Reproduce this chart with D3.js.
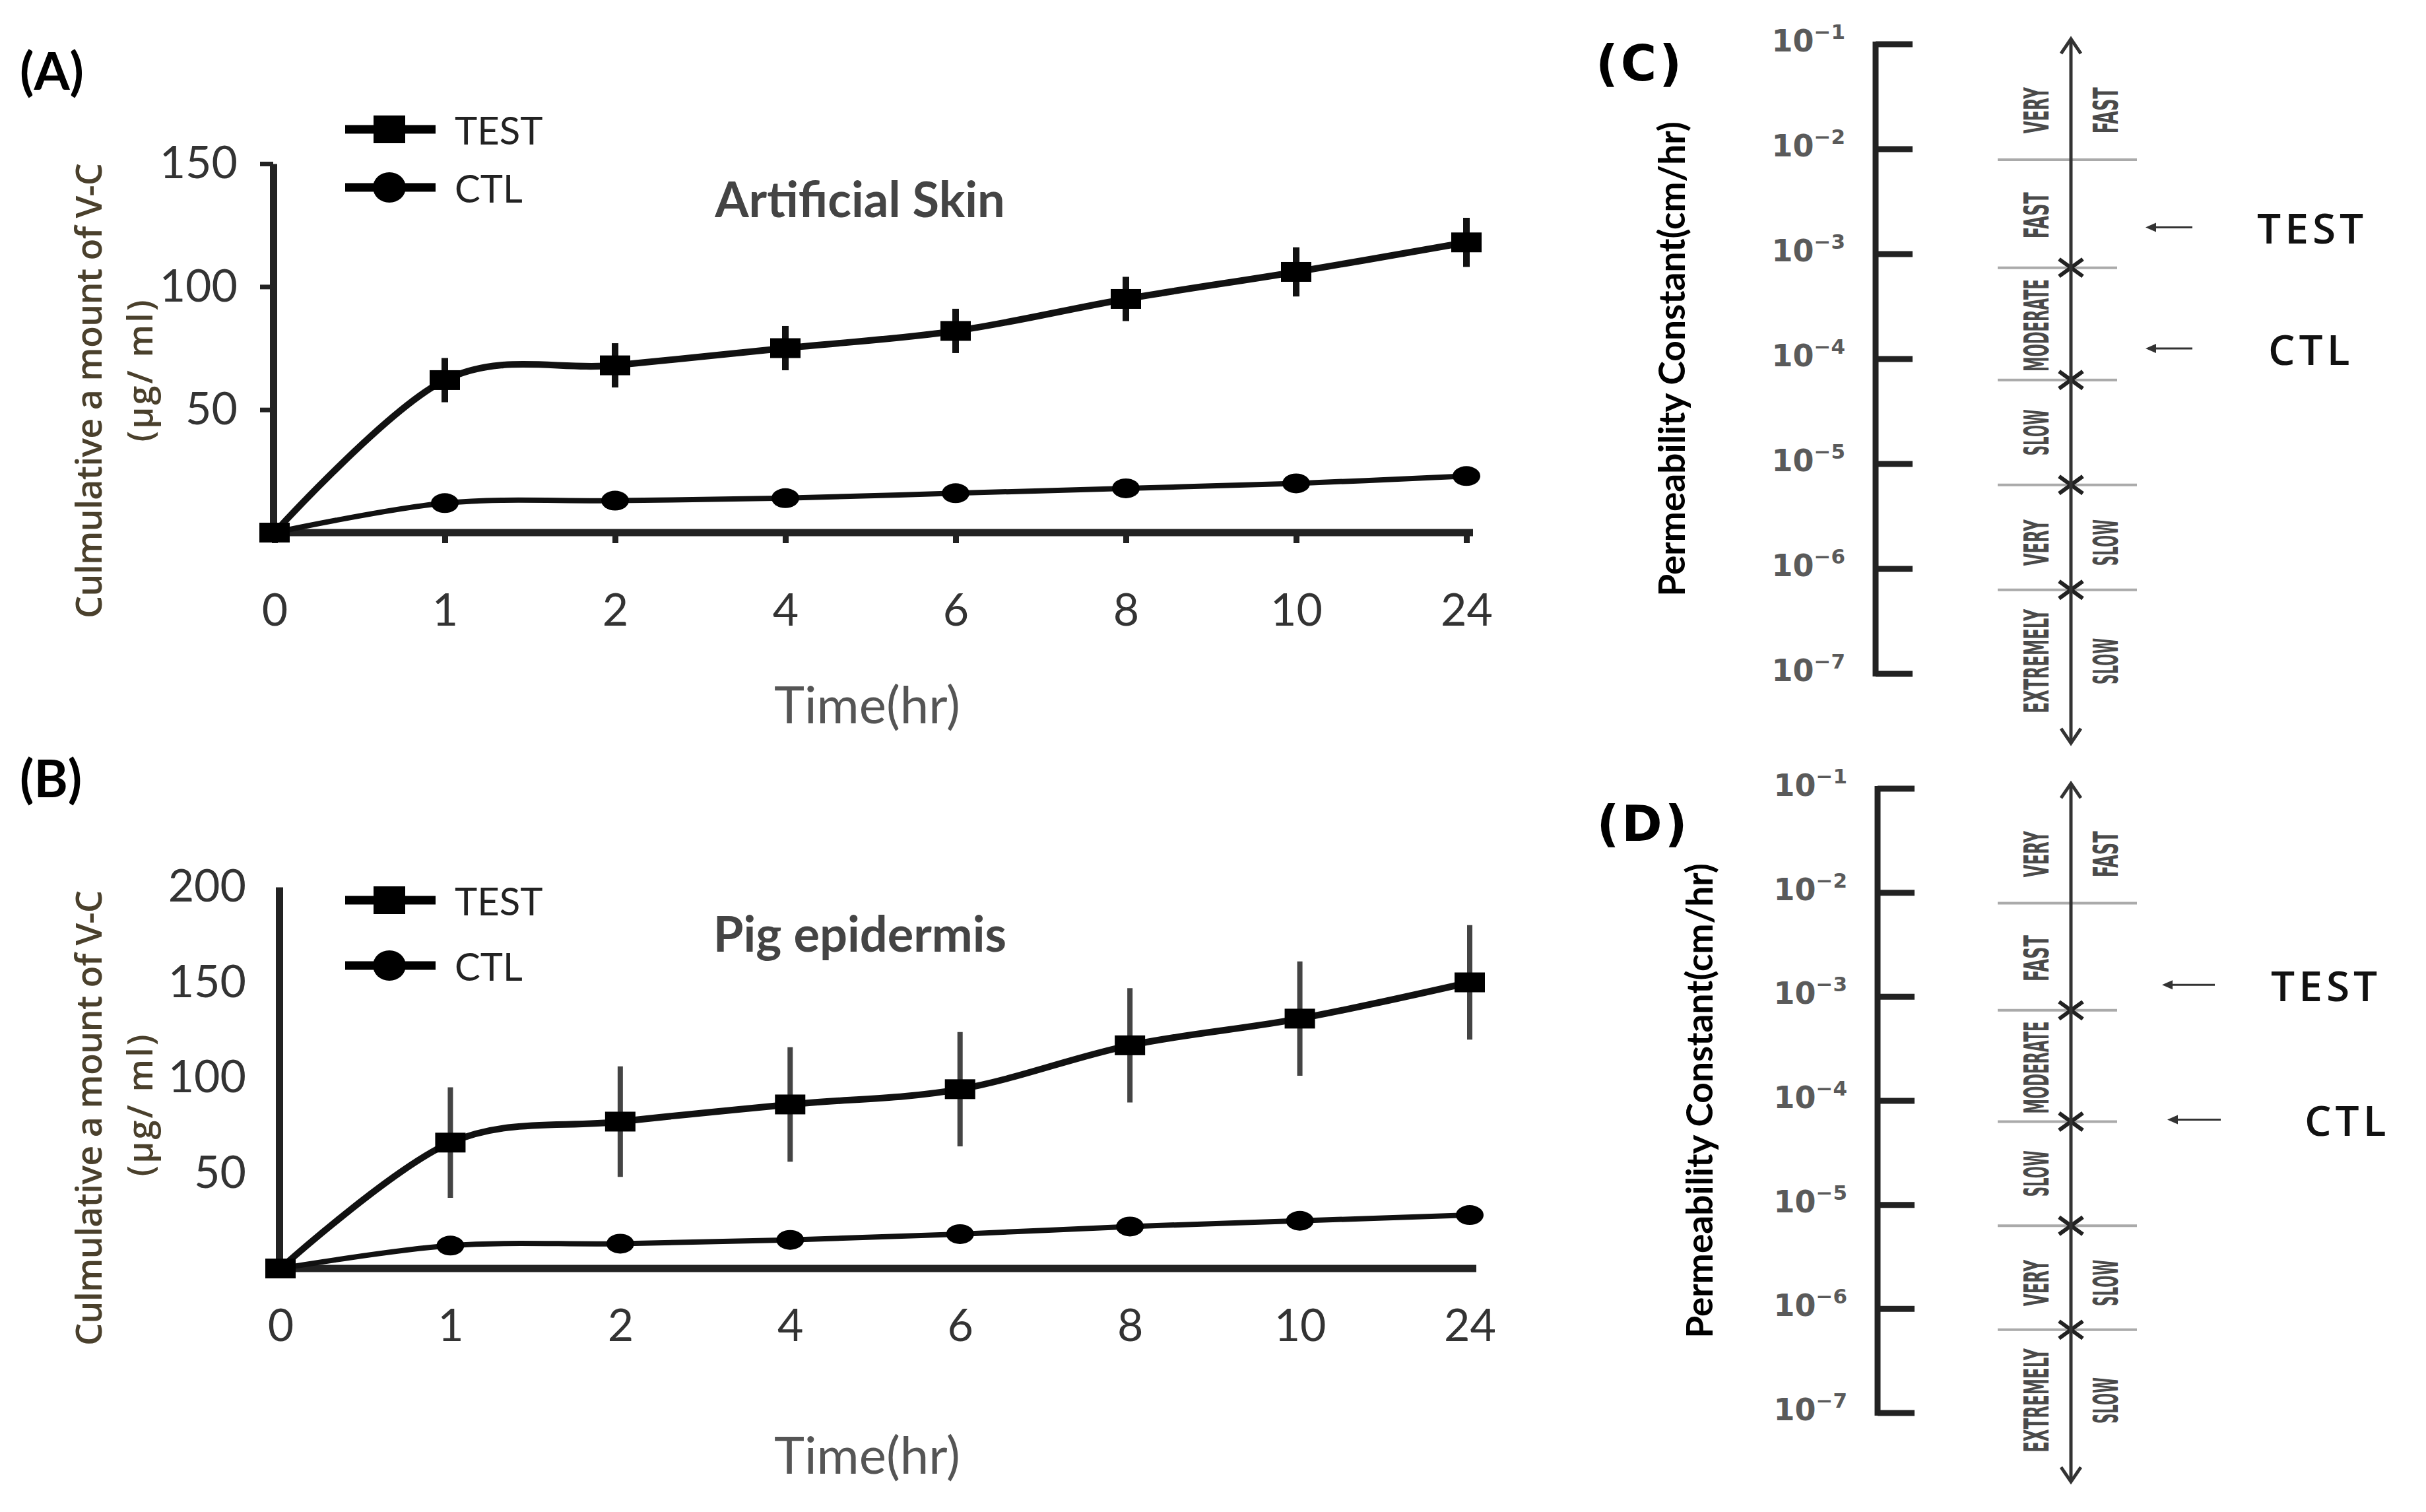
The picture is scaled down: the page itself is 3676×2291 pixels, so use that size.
<!DOCTYPE html>
<html lang="en">
<head>
<meta charset="UTF-8">
<title>V-C permeation</title>
<script src="https://d3js.org/d3.v7.min.js"></script>
<style>
  body { margin: 0; background: #fff; }
</style>
</head>
<body>
<svg id="fig" width="3676" height="2291"></svg>
<script>
// ---- data ----
const timeLabels = ["0", "1", "2", "4", "6", "8", "10", "24"];

const skinTest    = [0, 62, 68, 75, 82, 95, 106, 118];
const skinTestErr = [0, 9, 9, 9, 9, 9, 10, 10];
const skinCtl     = [0, 12, 13, 14, 16, 18, 20, 23];

const pigTest     = [0, 66, 77, 86, 94, 117, 131, 150];
const pigTestErr  = [0, 29, 29, 30, 30, 30, 30, 30];
const pigCtl      = [0, 12, 13, 15, 18, 22, 25, 28];

const skinTicks = [50, 100, 150];
const pigTicks  = [50, 100, 150, 200];

// permeability scale (exponents of 10)
const permExponents = [-1, -2, -3, -4, -5, -6, -7];
const zoneBounds    = [-2.10, -3.13, -4.20, -5.20, -6.20];
const zoneMids      = [-1.63, -2.63, -3.68, -4.70, -5.75, -6.88];
const zoneLeft      = ["VERY", "FAST", "MODERATE", "SLOW", "VERY", "EXTREMELY"];
const zoneRight     = ["FAST", "", "", "", "SLOW", "SLOW"];
const arrowEnds     = [-0.95, -7.66];

const permNames = ["TEST", "CTL"];
const skinPerm  = [1.8e-3, 1.26e-4];
const pigPerm   = [1.3e-3, 6.6e-5];

const svg = d3.select("#fig");
svg.append("rect").attr("width", 3676).attr("height", 2291).attr("fill", "#fff");

const LATO = "Lato, 'Open Sans', sans-serif";

function linePanel(p) {
  const g = svg.append("g");
  const x = d3.scalePoint().domain(timeLabels).range([p.x0, p.x1]);
  const y = d3.scaleLinear().domain([0, p.max]).range([p.y0, p.yTop]);

  // axes
  const xa = g.append("g").attr("transform", `translate(0,${p.y0})`)
    .call(d3.axisBottom(x).tickSizeOuter(0).tickSizeInner(p.xTick).tickPadding(p.xPad));
  xa.select(".domain").attr("stroke", "#222").attr("stroke-width", 11)
    .attr("d", `M${p.x0 - 4},0H${p.x1 + 10}`);
  xa.selectAll(".tick line").attr("stroke", "#222").attr("stroke-width", 9);
  xa.selectAll("text").attr("font-family", LATO).attr("font-size", 68).attr("fill", "#333");

  const ya = g.append("g").attr("transform", `translate(${p.x0 - 2},0)`)
    .call(d3.axisLeft(y).tickValues(p.ticks).tickSizeOuter(0).tickSizeInner(p.yTick).tickPadding(p.yPad));
  ya.select(".domain").attr("stroke", "#222").attr("stroke-width", 11);
  ya.selectAll(".tick line").attr("stroke", "#222").attr("stroke-width", 7);
  ya.selectAll("text").attr("font-family", LATO).attr("font-size", 68).attr("fill", "#333");

  // error bars
  g.selectAll(".err").data(p.test).enter().append("line")
    .attr("x1", (d, i) => x(timeLabels[i])).attr("x2", (d, i) => x(timeLabels[i]))
    .attr("y1", (d, i) => y(d - p.err[i])).attr("y2", (d, i) => y(d + p.err[i]))
    .attr("stroke", p.errColor).attr("stroke-width", p.errWidth);

  const line = d3.line()
    .x((d, i) => x(timeLabels[i]))
    .y(d => y(d))
    .curve(d3.curveCardinal.tension(0));

  g.append("path").attr("d", line(p.test)).attr("fill", "none")
    .attr("stroke", "#111").attr("stroke-width", 10);
  g.append("path").attr("d", line(p.ctl)).attr("fill", "none")
    .attr("stroke", "#111").attr("stroke-width", 8);

  g.selectAll(".ctl").data(p.ctl).enter().append("ellipse")
    .attr("cx", (d, i) => x(timeLabels[i])).attr("cy", d => y(d))
    .attr("rx", 21).attr("ry", 15).attr("fill", "#000");
  g.selectAll(".tst").data(p.test).enter().append("rect")
    .attr("x", (d, i) => x(timeLabels[i]) - 23).attr("y", d => y(d) - 15)
    .attr("width", 46).attr("height", 30).attr("fill", "#000");

  // legend
  const lg = g.append("g");
  [["TEST", p.legY[0]], ["CTL", p.legY[1]]].forEach(([name, ly], k) => {
    lg.append("line").attr("x1", 523).attr("x2", 660).attr("y1", ly).attr("y2", ly)
      .attr("stroke", "#000").attr("stroke-width", 13);
    if (k === 0) {
      lg.append("rect").attr("x", 590 - 24).attr("y", ly - 21).attr("width", 48).attr("height", 42).attr("fill", "#000");
    } else {
      lg.append("ellipse").attr("cx", 590).attr("cy", ly).attr("rx", 25).attr("ry", 23).attr("fill", "#000");
    }
    lg.append("text").attr("x", 689).attr("y", ly).attr("dominant-baseline", "central")
      .attr("font-family", LATO).attr("font-size", 58).attr("fill", "#222").text(name);
  });

  // panel title & axis labels
  g.append("text").attr("x", 1303).attr("y", p.titleY).attr("text-anchor", "middle")
    .attr("dominant-baseline", "central").attr("font-family", LATO).attr("font-weight", 700)
    .attr("font-size", 74).attr("fill", "#444").text(p.title);

  g.append("text").attr("x", 1314).attr("y", p.timeY).attr("text-anchor", "middle")
    .attr("dominant-baseline", "central").attr("font-family", LATO)
    .attr("font-size", 78).attr("fill", "#555").text("Time(hr)");

  g.append("text").attr("transform", `translate(133,${p.yTitle[0]}) rotate(-90)`)
    .attr("text-anchor", "middle").attr("dominant-baseline", "central")
    .attr("font-family", "'Open Sans', sans-serif").attr("font-weight", 600)
    .attr("font-size", 54).attr("textLength", 690).attr("lengthAdjust", "spacing")
    .attr("fill", "#4a402c").text(p.yLabel);
  g.append("text").attr("transform", `translate(210,${p.yTitle[1]}) rotate(-90)`)
    .attr("text-anchor", "middle").attr("dominant-baseline", "central")
    .attr("font-family", "'Open Sans', sans-serif").attr("font-weight", 600)
    .attr("font-size", 52).attr("textLength", 215).attr("lengthAdjust", "spacing")
    .attr("fill", "#4a402c").text("(μg/ ml)");

  g.append("text").attr("x", 30).attr("y", p.tagY).attr("font-family", LATO).attr("font-weight", 700)
    .attr("font-size", 78).attr("fill", "#000").text(p.tag);
}

linePanel({
  tag: "(A)", tagY: 136, title: "Artificial Skin", titleY: 300, timeY: 1066,
  yLabel: "Culmulative a mount of V-C", yTitle: [592, 562],
  x0: 416, x1: 2222, y0: 807, yTop: 248, max: 150, ticks: skinTicks,
  xTick: 16, xPad: 77, yTick: 20, yPad: 34,
  test: skinTest, err: skinTestErr, ctl: skinCtl,
  errColor: "#111", errWidth: 10, legY: [196, 284]
});

linePanel({
  tag: "(B)", tagY: 1208, title: "Pig epidermis", titleY: 1413, timeY: 2203,
  yLabel: "Culmulative a mount of V-C", yTitle: [1694, 1675],
  x0: 425, x1: 2227, y0: 1922, yTop: 1344, max: 200, ticks: pigTicks,
  xTick: 0, xPad: 62, yTick: 0, yPad: 50,
  test: pigTest, err: pigTestErr, ctl: pigCtl,
  errColor: "#444", errWidth: 8, legY: [1364, 1463]
});

function permPanel(p) {
  const g = svg.append("g");
  const y = d3.scaleLog().domain([1e-7, 1e-1]).range([p.yBottom, p.yTop]);
  const ax = 3138;

  // bracket axis
  g.append("line").attr("x1", p.bx).attr("x2", p.bx)
    .attr("y1", y(1e-1) - 4).attr("y2", y(1e-7) + 4)
    .attr("stroke", "#222").attr("stroke-width", 9);
  permExponents.forEach(e => {
    const ty = y(Math.pow(10, e));
    g.append("line").attr("x1", p.bx).attr("x2", p.bx + 56).attr("y1", ty).attr("y2", ty)
      .attr("stroke", "#222").attr("stroke-width", 9);
    const t = g.append("text").attr("x", p.bx - 46).attr("y", ty + 11).attr("text-anchor", "end")
      .attr("font-family", "'DejaVu Sans', sans-serif").attr("font-weight", 700)
      .attr("fill", "#5a5a5a");
    t.append("tspan").attr("font-size", 46).text("10");
    t.append("tspan").attr("font-size", 31).attr("dy", -19).text("−" + (-e));
  });

  g.append("text").attr("transform", `translate(${p.titleX},${(y(1e-1) + y(1e-7)) / 2}) rotate(-90)`)
    .attr("text-anchor", "middle").attr("dominant-baseline", "central")
    .attr("font-family", LATO).attr("font-weight", 700).attr("font-size", 55)
    .attr("fill", "#000").text("Permeability Constant(cm/hr)");

  g.append("text").attr("x", p.tagX).attr("y", p.tagY).attr("text-anchor", "middle")
    .attr("dominant-baseline", "central").attr("font-family", "'DejaVu Sans', sans-serif")
    .attr("font-weight", 700).attr("font-size", 74).attr("letter-spacing", 4)
    .attr("fill", "#000").text(p.tag);

  // separators
  const rightExt = [100, 70, 70, 100, 100];
  zoneBounds.forEach((e, i) => {
    const sy = y(Math.pow(10, e));
    g.append("line").attr("x1", ax - 111).attr("x2", ax + rightExt[i]).attr("y1", sy).attr("y2", sy)
      .attr("stroke", "#aaa").attr("stroke-width", 4);
    if (i > 0) {
      g.append("path").attr("d", `M${ax - 18},${sy - 13}L${ax + 18},${sy + 13}M${ax - 18},${sy + 13}L${ax + 18},${sy - 13}`)
        .attr("stroke", "#222").attr("stroke-width", 6).attr("fill", "none");
    }
  });

  // arrow axis
  const yA = y(Math.pow(10, arrowEnds[0])), yB = y(Math.pow(10, arrowEnds[1]));
  g.append("line").attr("x1", ax).attr("x2", ax).attr("y1", yA).attr("y2", yB)
    .attr("stroke", "#333").attr("stroke-width", 5);
  g.append("path").attr("d", `M${ax - 15},${yA + 22}L${ax},${yA}L${ax + 15},${yA + 22}M${ax - 15},${yB - 22}L${ax},${yB}L${ax + 15},${yB - 22}`)
    .attr("stroke", "#333").attr("stroke-width", 5).attr("fill", "none");

  // zone labels
  const zoneText = (xp, txt, e) => {
    if (!txt) return;
    g.append("text").attr("transform", `translate(${xp},${y(Math.pow(10, e))}) rotate(-90)`)
      .attr("text-anchor", "middle").attr("dominant-baseline", "central")
      .attr("font-family", "'Liberation Sans Narrow', 'DejaVu Sans Condensed', sans-serif")
      .attr("font-weight", 700).attr("font-size", 52).attr("fill", "#4a4a4a")
      .attr("textLength", txt.length * 17.5).attr("lengthAdjust", "spacingAndGlyphs").text(txt);
  };
  zoneMids.forEach((e, i) => {
    zoneText(ax - 52, zoneLeft[i], e);
    zoneText(ax + 53, zoneRight[i], e);
  });

  // TEST / CTL pointers
  permNames.forEach((name, i) => {
    const py = y(p.values[i]);
    g.append("line").attr("x1", p.arrX[i][1]).attr("x2", p.arrX[i][0] + 6).attr("y1", py).attr("y2", py)
      .attr("stroke", "#333").attr("stroke-width", 3);
    g.append("path").attr("d", `M${p.arrX[i][0]},${py}L${p.arrX[i][0] + 16},${py - 7}L${p.arrX[i][0] + 16},${py + 7}Z`)
      .attr("fill", "#333");
    g.append("text").attr("x", p.textX[i]).attr("y", py).attr("dominant-baseline", "central")
      .attr("font-family", "'Open Sans', sans-serif").attr("font-weight", 600).attr("font-size", 64)
      .attr("letter-spacing", 6).attr("fill", "#111").text(name);
  });
}

permPanel({
  tag: "(C)", tagX: 2485, tagY: 96, bx: 2842, titleX: 2532,
  yTop: 67, yBottom: 1021, values: skinPerm,
  arrX: [[3251, 3322], [3251, 3322]], textX: [3420, 3437]
});

permPanel({
  tag: "(D)", tagX: 2490, tagY: 1248, bx: 2845, titleX: 2574,
  yTop: 1195, yBottom: 2141, values: pigPerm,
  arrX: [[3276, 3356], [3284, 3365]], textX: [3441, 3492]
});
</script>
</body>
</html>
